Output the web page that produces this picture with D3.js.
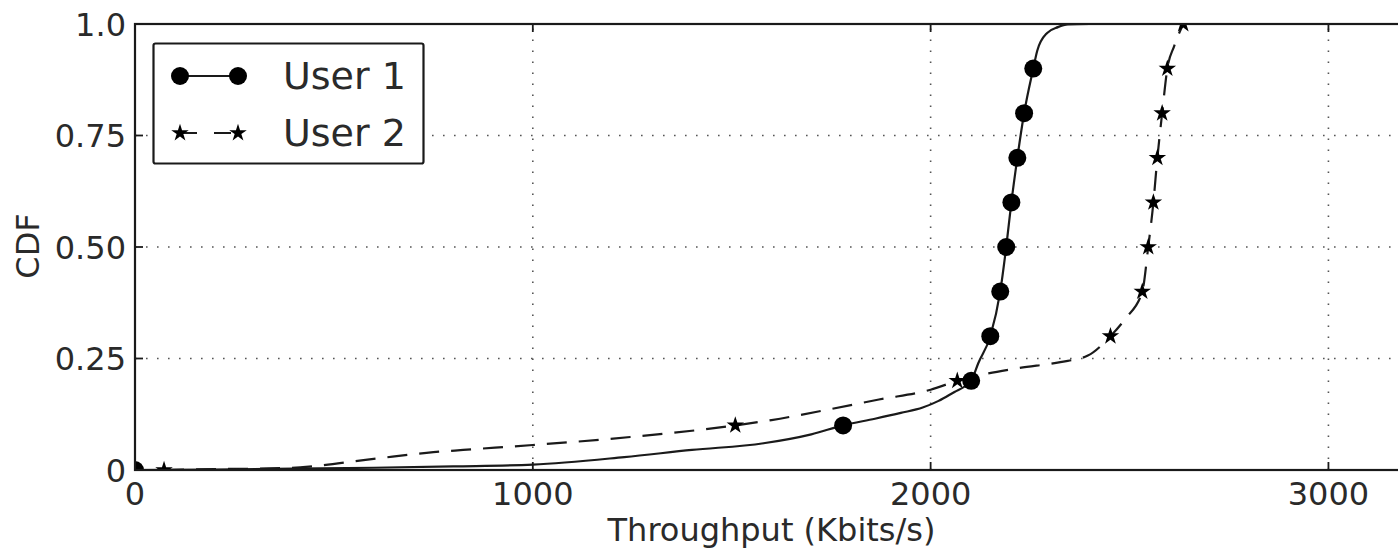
<!DOCTYPE html>
<html>
<head>
<meta charset="utf-8">
<script src="https://cdn.jsdelivr.net/npm/d3@7"></script>
<style>
  html, body { margin: 0; padding: 0; background: #fff; }
  svg { display: block; }
  text { font-family: "DejaVu Sans", sans-serif; fill: #2a2a2a; }
</style>
</head>
<body>
<svg id="chart" width="1398" height="552"></svg>
<script>
// Throughput CDF for two users (Kbits/s vs cumulative fraction)
const user1Throughput = [0, 200, 400, 600, 800, 1000, 1230, 1400, 1580, 1700, 1780, 1860, 1925, 1980, 2020, 2060, 2090, 2102, 2120, 2150, 2175, 2190, 2203, 2218, 2235, 2258, 2268, 2293, 2320, 2345, 2400];
const user1Cdf        = [0, 0.001, 0.003, 0.005, 0.008, 0.012, 0.029, 0.045, 0.06, 0.08, 0.1, 0.115, 0.128, 0.14, 0.155, 0.175, 0.19, 0.2, 0.24, 0.3, 0.4, 0.5, 0.6, 0.7, 0.8, 0.9, 0.94, 0.98, 0.993, 0.999, 1.0];
const user1MarkX = [0, 1780, 2102, 2150, 2175, 2190, 2203, 2218, 2235, 2258];
const user1MarkY = [0, 0.1, 0.2, 0.3, 0.4, 0.5, 0.6, 0.7, 0.8, 0.9];

const user2Throughput = [73, 200, 300, 415, 600, 750, 825, 1000, 1245, 1509, 1600, 1740, 1870, 2000, 2067, 2218, 2326, 2394, 2452, 2490, 2532, 2547, 2560, 2570, 2582, 2595, 2612, 2635];
const user2Cdf        = [0, 0.002, 0.003, 0.006, 0.025, 0.04, 0.045, 0.056, 0.074, 0.1, 0.112, 0.135, 0.158, 0.18, 0.2, 0.228, 0.242, 0.256, 0.3, 0.34, 0.4, 0.5, 0.6, 0.7, 0.8, 0.9, 0.95, 1.0];
const user2MarkX = [73, 1509, 2067, 2452, 2532, 2547, 2560, 2570, 2582, 2595, 2635];
const user2MarkY = [0, 0.1, 0.2, 0.3, 0.4, 0.5, 0.6, 0.7, 0.8, 0.9, 1.0];

const xTicks = [0, 1000, 2000, 3000];
const xTickLabels = ["0", "1000", "2000", "3000"];
const yTicks = [0, 0.25, 0.5, 0.75, 1.0];
const yTickLabels = ["0", "0.25", "0.50", "0.75", "1.0"];
const seriesNames = ["User 1", "User 2"];

const svg = d3.select("#chart");
const plotLeft = 135, plotRight = 1408, plotTop = 24, plotBottom = 470;

const x = d3.scaleLinear().domain([0, 3200]).range([plotLeft, plotRight]);
const y = d3.scaleLinear().domain([0, 1]).range([plotBottom, plotTop]);

svg.append("defs").append("clipPath").attr("id", "plotclip")
  .append("rect").attr("x", plotLeft).attr("y", plotTop)
  .attr("width", plotRight - plotLeft).attr("height", plotBottom - plotTop);

// dotted grid
const grid = svg.append("g").attr("stroke", "#555").attr("stroke-width", 1.6)
  .attr("stroke-dasharray", "1.6,9.4");
grid.selectAll("line.gx").data(xTicks.filter(t => t > 0)).join("line")
  .attr("x1", d => x(d)).attr("x2", d => x(d)).attr("y1", plotBottom).attr("y2", plotTop);
grid.selectAll("line.gy").data(yTicks.filter(t => t > 0 && t < 1)).join("line")
  .attr("y1", d => y(d)).attr("y2", d => y(d)).attr("x1", plotLeft).attr("x2", plotRight);

// series
const plot = svg.append("g").attr("clip-path", "url(#plotclip)");
const line = d3.line().x(d => x(d[0])).y(d => y(d[1])).curve(d3.curveMonotoneX);

const u1 = user1Throughput.map((t, i) => [t, user1Cdf[i]]);
const u2 = user2Throughput.map((t, i) => [t, user2Cdf[i]]);

plot.append("path").datum(u2).attr("d", line).attr("fill", "none")
  .attr("stroke", "#1a1a1a").attr("stroke-width", 2.2).attr("stroke-dasharray", "20,12");
plot.append("path").datum(u1).attr("d", line).attr("fill", "none")
  .attr("stroke", "#1a1a1a").attr("stroke-width", 2.2);

const star = d3.symbol().type(d3.symbolStar).size(95);

plot.selectAll("circle.m1").data(user1MarkX.map((t, i) => [t, user1MarkY[i]])).join("circle")
  .attr("cx", d => x(d[0])).attr("cy", d => y(d[1])).attr("r", 9).attr("fill", "#000");
plot.selectAll("path.m2").data(user2MarkX.map((t, i) => [t, user2MarkY[i]])).join("path")
  .attr("d", star).attr("transform", d => `translate(${x(d[0])},${y(d[1])})`).attr("fill", "#000");

// frame
svg.append("rect").attr("x", plotLeft).attr("y", plotTop).attr("width", plotRight - plotLeft).attr("height", plotBottom - plotTop)
  .attr("fill", "none").attr("stroke", "#1a1a1a").attr("stroke-width", 2.2);

// ticks (inward, on all sides)
const tk = svg.append("g").attr("stroke", "#1a1a1a").attr("stroke-width", 1.8);
xTicks.forEach(t => {
  tk.append("line").attr("x1", x(t)).attr("x2", x(t)).attr("y1", plotBottom).attr("y2", plotBottom - 8);
  tk.append("line").attr("x1", x(t)).attr("x2", x(t)).attr("y1", plotTop).attr("y2", plotTop + 8);
});
yTicks.forEach(t => {
  tk.append("line").attr("x1", plotLeft).attr("x2", plotLeft + 8).attr("y1", y(t)).attr("y2", y(t));
});

// tick labels
svg.selectAll("text.xt").data(xTicks).join("text")
  .attr("x", d => x(d)).attr("y", 505).attr("text-anchor", "middle")
  .attr("font-size", 32).text((d, i) => xTickLabels[i]);
svg.selectAll("text.yt").data(yTicks).join("text")
  .attr("x", 126).attr("y", d => y(d) + 11.5).attr("text-anchor", "end")
  .attr("font-size", 32).text((d, i) => yTickLabels[i]);

// axis titles
svg.append("text").attr("x", (plotLeft + plotRight) / 2).attr("y", 541).attr("text-anchor", "middle")
  .attr("font-size", 32).text("Throughput (Kbits/s)");
svg.append("text").attr("transform", "translate(39,246) rotate(-90)").attr("text-anchor", "middle")
  .attr("font-size", 32).text("CDF");

// legend
const lg = svg.append("g");
lg.append("rect").attr("x", 153.5).attr("y", 43.5).attr("width", 270).attr("height", 120).attr("rx", 2)
  .attr("fill", "#fff").attr("stroke", "#1a1a1a").attr("stroke-width", 2.2);
const rows = [76, 133];
lg.append("line").attr("x1", 180).attr("x2", 238).attr("y1", rows[0]).attr("y2", rows[0])
  .attr("stroke", "#1a1a1a").attr("stroke-width", 2.2);
[180, 238].forEach(cx => lg.append("circle").attr("cx", cx).attr("cy", rows[0]).attr("r", 9).attr("fill", "#000"));
lg.append("line").attr("x1", 180).attr("x2", 238).attr("y1", rows[1]).attr("y2", rows[1])
  .attr("stroke", "#1a1a1a").attr("stroke-width", 2.2).attr("stroke-dasharray", "17,17");
[180, 238].forEach(cx => lg.append("path").attr("d", star)
  .attr("transform", `translate(${cx},${rows[1]})`).attr("fill", "#000"));
lg.selectAll("text").data(seriesNames).join("text")
  .attr("x", 283).attr("y", (d, i) => rows[i] + 13).attr("font-size", 38).text(d => d);
</script>
</body>
</html>
